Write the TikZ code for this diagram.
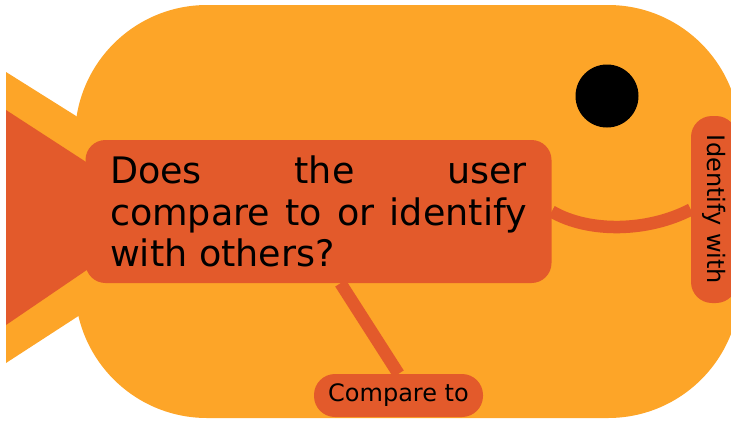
\documentclass[tikz,border=0pt]{standalone}
\usepackage{fontspec}
\setmainfont{DejaVu Sans}
\usepackage{tikz}

\definecolor{fishbody}{RGB}{253,165,40}
\definecolor{fishfin}{RGB}{227,90,43}

\begin{document}
\begin{tikzpicture}[x=1pt,y=-1pt,
    answer/.style={fill=fishfin,rounded corners=21pt,inner sep=0pt,
      font=\fontsize{24}{28}\selectfont},
    link/.style={draw=fishfin,line width=12.5pt}]
  \useasboundingbox (0,0) rectangle (731,421);
  \clip (0,0) rectangle (731,421);
  \fill[fishbody] (6,72)--(100,131)--(100,302)--(6,363)--cycle;
  \fill[fishbody,rounded corners=132pt] (75,5) rectangle (740,418);
  \fill[fishfin] (6,110)--(100,171)--(100,261)--(6,325)--cycle;
  \fill[black] (607,96) circle[radius=31.5pt];
  \node[fill=fishfin,rounded corners=20pt,minimum width=466pt,minimum height=143pt,
    text width=417pt,align=justify,font=\fontsize{36.5}{41.5}\selectfont]
    (question) at (318.5,211.5) {Does the user\linebreak compare to or identify\linebreak with others?};
  \node[answer,rotate=-90,minimum width=187pt,minimum height=46pt] (identify) at (714,209.5) {Identify with};
  \node[answer,minimum width=169pt,minimum height=43pt] (compare) at (398.5,395.5) {Compare to};
  \draw[link] (question.east) .. controls +(38,22) and +(-42,22) .. (identify.south);
  \draw[link] ([xshift=22pt]question.south) -- (compare.north);
\end{tikzpicture}
\end{document}
